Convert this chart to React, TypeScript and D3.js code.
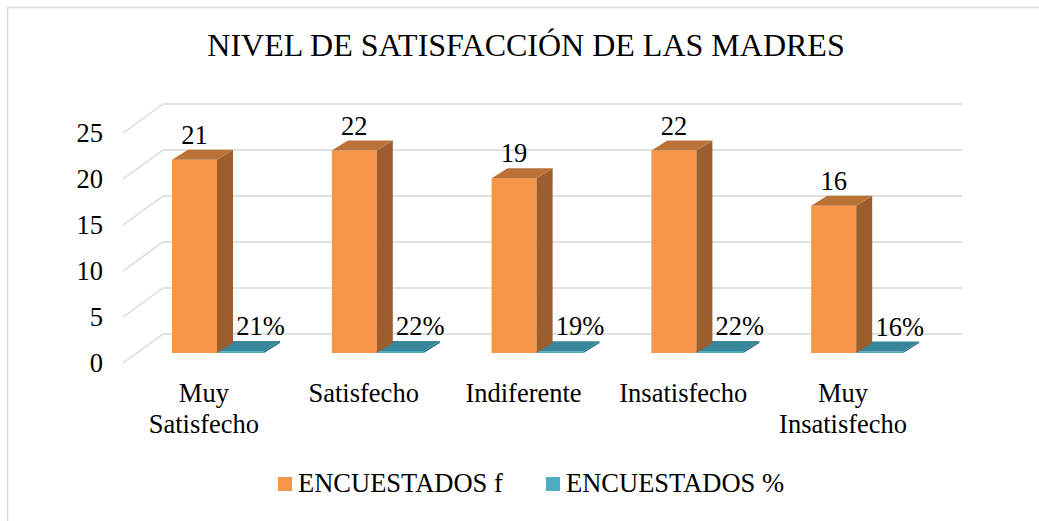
import React from "react";
import * as d3 from "d3";

const categories: string[][] = [
  ["Muy", "Satisfecho"],
  ["Satisfecho"],
  ["Indiferente"],
  ["Insatisfecho"],
  ["Muy", "Insatisfecho"],
];
const catKeys = ["Muy Satisfecho", "Satisfecho", "Indiferente", "Insatisfecho", "Muy Insatisfecho"];
const seriesF: number[] = [21, 22, 19, 22, 16];
const seriesPct: number[] = [0.21, 0.22, 0.19, 0.22, 0.16];
const yTicks: number[] = [0, 5, 10, 15, 20, 25];
const seriesNames = ["ENCUESTADOS f", "ENCUESTADOS %"];

const FONT = "'Liberation Serif', 'Times New Roman', serif";

export default function App() {
  const W = 1039, H = 521;
  // back wall scale
  const yBack = d3.scaleLinear().domain([0, 25]).range([334, 104]);
  const x = d3.scaleBand<string>().domain(catKeys).range([163, 962]);
  const wallDX = -40, wallDY = 29; // front offset
  const barDY = 19; // bar front depth offset from back wall (y)
  const yBar = (v: number) => yBack(v) + barDY;
  const depthX = 16, depthY = 10;
  const wF = 45, wP = 47;

  const orange = { front: "#F79646", side: "#9C5E2C", top: "#BB7237" };
  const teal = { front: "#4BACC6", side: "#2E6F80", top: "#37869A" };

  const box = (x0: number, w: number, yTop: number, yBot: number, c: any, key: string) => {
    const x1 = x0 + w;
    return (
      <g key={key}>
        <rect x={x0} y={yTop} width={w} height={Math.max(yBot - yTop, 0)} fill={c.front} />
        <path d={`M${x1},${yTop} L${x1 + depthX},${yTop - depthY} L${x1 + depthX},${yBot - depthY} L${x1},${yBot} Z`} fill={c.side} />
        <path d={`M${x0},${yTop} L${x0 + depthX},${yTop - depthY} L${x1 + depthX},${yTop - depthY} L${x1},${yTop} Z`} fill={c.top} />
      </g>
    );
  };

  return (
    <svg width={W} height={H} style={{ position: "absolute", left: 0, top: 0 }} fontFamily={FONT}>
      <rect x={0} y={0} width={W} height={H} fill="#fff" />
      <rect x={7.5} y={7.5} width={1100} height={600} fill="none" stroke="#d9d9d9" strokeWidth={1.5} />
      <text x={526} y={56} textAnchor="middle" fontSize={32} fill="#000">
        NIVEL DE SATISFACCIÓN DE LAS MADRES
      </text>
      {/* gridlines */}
      {yTicks.map((t) => (
        <g key={"g" + t}>
          <line x1={163} x2={962} y1={yBack(t)} y2={yBack(t)} stroke="#d9d9d9" strokeWidth={1.5} />
          <line x1={163 + wallDX} y1={yBack(t) + wallDY} x2={163} y2={yBack(t)} stroke="#d9d9d9" strokeWidth={1.5} />
          <text x={103} y={yBack(t) + wallDY} dy="0.35em" textAnchor="end" fontSize={26.5} fill="#000">
            {t}
          </text>
        </g>
      ))}
      {/* bars */}
      {catKeys.map((k, i) => {
        const x0 = (x(k) as number) + 9;
        const base = yBar(0);
        const topF = yBar(seriesF[i]);
        const topP = yBar(seriesPct[i]);
        return (
          <g key={"b" + i}>
            {box(x0 + wF, wP, topP, base, teal, "p")}
            {box(x0, wF, topF, base, orange, "f")}
            <text x={x0 + wF / 2} y={topF - depthY - 6} textAnchor="middle" fontSize={26.5} fill="#000">
              {seriesF[i]}
            </text>
            <text x={x0 + wF + wP / 2 + 20} y={topP - depthY - 6} textAnchor="middle" fontSize={26.5} fill="#000">
              {Math.round(seriesPct[i] * 100) + "%"}
            </text>
          </g>
        );
      })}
      {/* category labels */}
      {catKeys.map((k, i) => {
        const cx = (x(k) as number) + x.bandwidth() / 2 + wallDX;
        return (
          <text key={"c" + i} x={cx + 1} y={402} textAnchor="middle" fontSize={26.5} fill="#000">
            {categories[i].map((l, j) => (
              <tspan key={j} x={cx + 1} dy={j === 0 ? 0 : 31}>
                {l}
              </tspan>
            ))}
          </text>
        );
      })}
      {/* legend */}
      <rect x={278} y={477} width={14} height={14} fill={orange.front} />
      <text x={298} y={492} fontSize={26.5} fill="#000">{seriesNames[0]}</text>
      <rect x={546} y={477} width={14} height={14} fill={teal.front} />
      <text x={566} y={492} fontSize={26.5} fill="#000">{seriesNames[1]}</text>
    </svg>
  );
}
